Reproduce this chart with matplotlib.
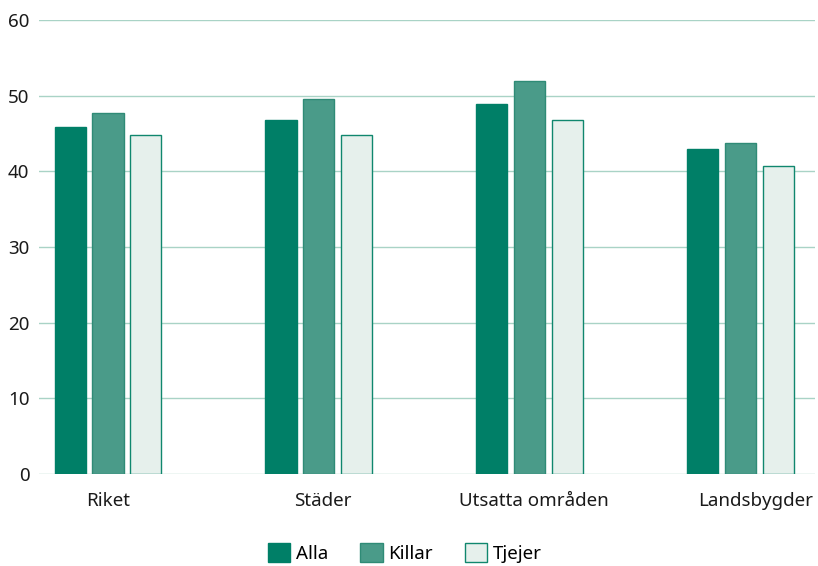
import numpy as np
import matplotlib.pyplot as plt
from matplotlib.patches import Patch

plt.rcParams['font.family'] = ['Noto Sans', 'DejaVu Sans']

categories = ['Riket', 'Städer', 'Utsatta områden', 'Landsbygder']
alla = [45.9, 46.8, 48.9, 42.9]
killar = [47.7, 49.5, 51.9, 43.7]
tjejer = [44.8, 44.8, 46.8, 40.7]
series_names = ['Alla', 'Killar', 'Tjejer']

fill_colors = ['#007f67', '#4a9b89', '#e6f0ec']
edge_colors = ['#007f67', '#2f8b76', '#10876e']
grid_color = '#a9d3c6'

fig = plt.figure(figsize=(8.18, 5.66), dpi=100)
ax = fig.add_axes([0.0477, 0.1625, 0.9486, 0.8022])

x = np.arange(len(categories))
width = 0.147
step = 0.18
for i, vals in enumerate([alla, killar, tjejer]):
    ax.bar(x + (i - 1) * step, vals, width, color=fill_colors[i],
           edgecolor=edge_colors[i], linewidth=1.0, zorder=3,
           label=series_names[i])

ax.set_ylim(0, 60)
ax.set_xlim(-0.327, 3.351)
ax.set_yticks(range(0, 61, 10))
ax.grid(axis='y', color=grid_color, linewidth=1.0, zorder=0)
ax.set_axisbelow(True)
for s in ax.spines.values():
    s.set_visible(False)
ax.tick_params(axis='both', length=0, labelsize=13.5, colors='#1a1a1a')
ax.tick_params(axis='y', pad=7)
ax.tick_params(axis='x', pad=13)
ax.set_xticks([0, 1.02, 2.02, 3.07])
ax.set_xticklabels(categories)

handles = [Patch(facecolor=fill_colors[i], edgecolor=edge_colors[i], linewidth=1.0)
           for i in range(3)]
fig.legend(handles, series_names, loc='lower center', ncol=3, frameon=False,
           fontsize=13.5, handlelength=1.2, handleheight=1.2, handletextpad=0.3,
           columnspacing=1.7, bbox_to_anchor=(0.495, -0.024))

plt.savefig('out.png', dpi=100)
